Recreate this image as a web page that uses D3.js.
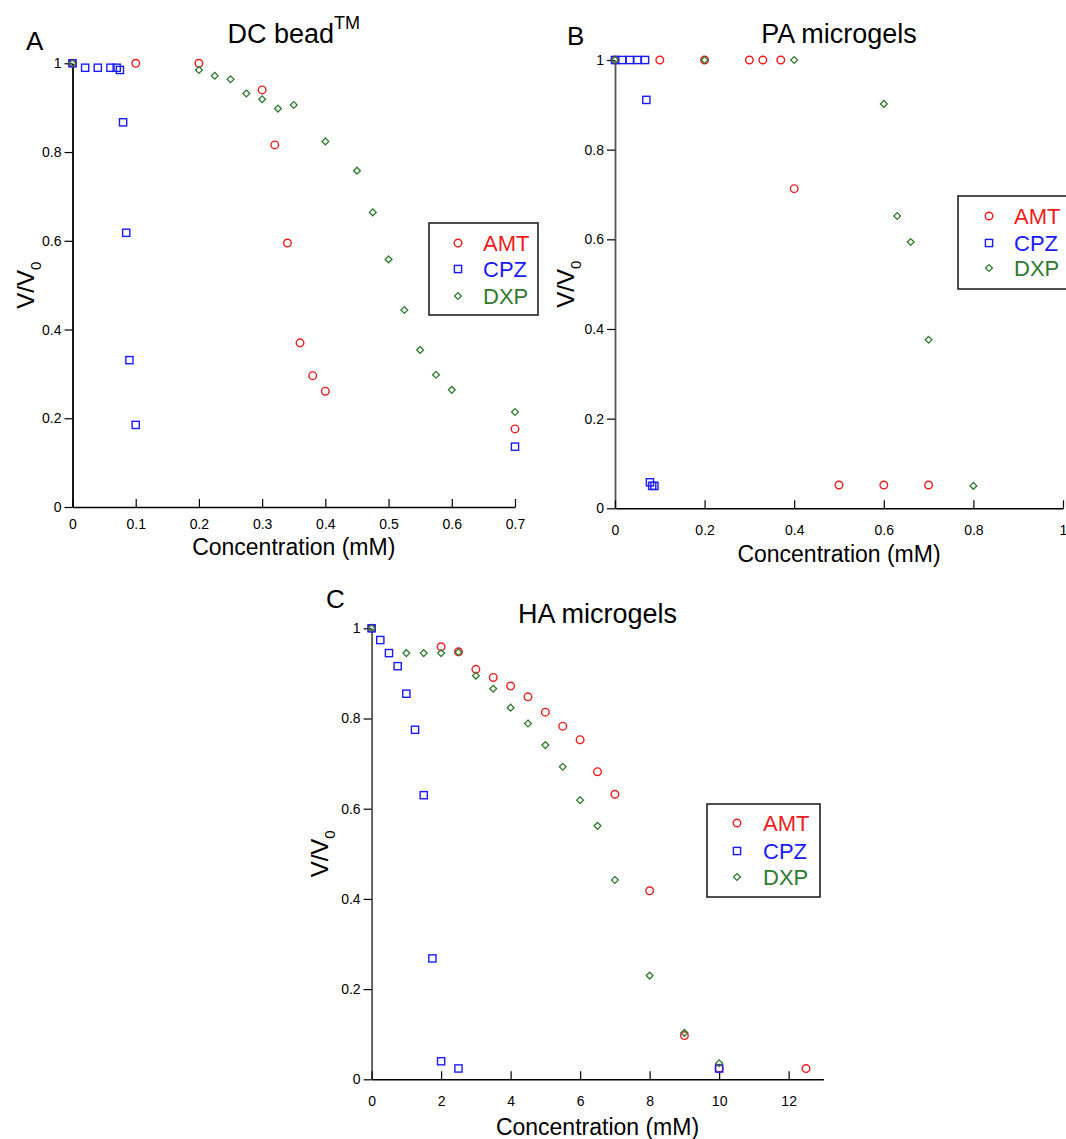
<!DOCTYPE html>
<html>
<head>
<meta charset="utf-8">
<script src="https://cdn.jsdelivr.net/npm/d3@7"></script>
<style>
  body { margin: 0; background: #fff; }
  svg { display: block; font-family: "Liberation Sans", Arial, sans-serif; }
</style>
</head>
<body>
<div id="chart"></div>
<script>
// ---- data ----
const seriesNames = ["AMT", "CPZ", "DXP"];
const seriesColors = ["#ee1c1c", "#1a1aff", "#2e7a2e"];

// panel A: DC bead
const aAmtX = [0, 0.1, 0.2, 0.3, 0.32, 0.34, 0.36, 0.38, 0.4, 0.7];
const aAmtY = [1, 1, 1, 0.94, 0.816, 0.595, 0.37, 0.296, 0.261, 0.176];
const aCpzX = [0, 0.02, 0.04, 0.06, 0.07, 0.075, 0.08, 0.085, 0.09, 0.1, 0.7];
const aCpzY = [1, 0.99, 0.99, 0.99, 0.99, 0.985, 0.867, 0.618, 0.331, 0.185, 0.136];
const aDxpX = [0, 0.2, 0.225, 0.25, 0.275, 0.3, 0.325, 0.35, 0.4, 0.45, 0.475, 0.5, 0.525, 0.55, 0.575, 0.6, 0.7];
const aDxpY = [1, 0.985, 0.972, 0.964, 0.932, 0.919, 0.898, 0.906, 0.824, 0.758, 0.664, 0.558, 0.444, 0.354, 0.298, 0.264, 0.214];

// panel B: PA microgels
const bAmtX = [0, 0.1, 0.2, 0.3, 0.33, 0.37, 0.4, 0.5, 0.6, 0.7];
const bAmtY = [1, 1, 1, 1, 1, 1, 0.713, 0.052, 0.052, 0.052];
const bCpzX = [0, 0.016, 0.033, 0.05, 0.067, 0.07, 0.078, 0.083, 0.088];
const bCpzY = [1, 1, 1, 1, 1, 0.911, 0.058, 0.05, 0.05];
const bDxpX = [0, 0.2, 0.4, 0.6, 0.63, 0.66, 0.7, 0.8];
const bDxpY = [1, 1, 1, 0.902, 0.652, 0.594, 0.376, 0.05];

// panel C: HA microgels
const cAmtX = [0, 2, 2.5, 3, 3.5, 4, 4.5, 5, 5.5, 6, 6.5, 7, 8, 9, 10, 12.5];
const cAmtY = [1, 0.959, 0.948, 0.909, 0.891, 0.872, 0.848, 0.814, 0.783, 0.753, 0.682, 0.632, 0.418, 0.097, 0.024, 0.024];
const cCpzX = [0, 0.25, 0.5, 0.75, 1, 1.25, 1.5, 1.75, 2, 2.5, 10];
const cCpzY = [1, 0.974, 0.945, 0.916, 0.855, 0.775, 0.63, 0.268, 0.04, 0.024, 0.024];
const cDxpX = [0, 1, 1.5, 2, 2.5, 3, 3.5, 4, 4.5, 5, 5.5, 6, 6.5, 7, 8, 9, 10];
const cDxpY = [1, 0.945, 0.945, 0.945, 0.947, 0.895, 0.866, 0.824, 0.789, 0.741, 0.693, 0.619, 0.562, 0.442, 0.23, 0.103, 0.0355];

// ticks
const yTicks = [0, 0.2, 0.4, 0.6, 0.8, 1];
const yTickLabels = ["0", "0.2", "0.4", "0.6", "0.8", "1"];
const aXTicks = [0, 0.1, 0.2, 0.3, 0.4, 0.5, 0.6, 0.7];
const aXTickLabels = ["0", "0.1", "0.2", "0.3", "0.4", "0.5", "0.6", "0.7"];
const bXTicks = [0, 0.2, 0.4, 0.6, 0.8, 1];
const bXTickLabels = ["0", "0.2", "0.4", "0.6", "0.8", "1"];
const cXTicks = [0, 2, 4, 6, 8, 10, 12];
const cXTickLabels = ["0", "2", "4", "6", "8", "10", "12"];

const toPoints = (xs, ys) => xs.map((x, i) => ({ x, y: ys[i] }));

// layout of each panel (pixels)
const panels = [
  {
    letter: "A", title: "DC bead", sup: "TM",
    xDomain: [0, 0.7], xRange: [72.5, 515], yRange: [507, 63.3],
    xTicks: aXTicks, xLabels: aXTickLabels, xLabelPad: 12,
    series: [toPoints(aAmtX, aAmtY), toPoints(aCpzX, aCpzY), toPoints(aDxpX, aDxpY)],
    letterPos: [26, 50], titleY: 43.3, xTitleY: 555, yTitleX: 34,
    legend: { x: 429, y: 223, w: 109, h: 92, mx: 458, tx: 483, rows: [243, 269, 296] },
    yAxisColor: "#000"
  },
  {
    letter: "B", title: "PA microgels",
    xDomain: [0, 1], xRange: [615, 1063], yRange: [508.3, 60],
    xTicks: bXTicks, xLabels: bXTickLabels, xLabelPad: 16.5,
    series: [toPoints(bAmtX, bAmtY), toPoints(bCpzX, bCpzY), toPoints(bDxpX, bDxpY)],
    letterPos: [567, 45], titleY: 43.3, xTitleY: 561.7, yTitleX: 574,
    legend: { x: 958, y: 196, w: 130, h: 93, mx: 989, tx: 1014, rows: [216, 243, 268] },
    yAxisColor: "#555"
  },
  {
    letter: "C", title: "HA microgels",
    xDomain: [0, 13], xRange: [371.6, 823.4], yRange: [1079.3, 628.3],
    xTicks: cXTicks, xLabels: cXTickLabels, xLabelPad: 16.5,
    series: [toPoints(cAmtX, cAmtY), toPoints(cCpzX, cCpzY), toPoints(cDxpX, cDxpY)],
    letterPos: [326, 608.3], titleY: 623.3, xTitleY: 1135, yTitleX: 328,
    legend: { x: 707, y: 804, w: 113, h: 93, mx: 737, tx: 763, rows: [823, 851, 877] },
    yAxisColor: "#555"
  }
];

const svg = d3.select("#chart").append("svg")
  .attr("width", 1066)
  .attr("height", 1139);

svg.append("rect").attr("width", 1066).attr("height", 1139).attr("fill", "#fff");

// draws one marker shape centred on 0,0
function drawMarker(g, kind, color) {
  if (kind === 0) {
    g.append("circle").attr("r", 3.8)
      .attr("fill", "none").attr("stroke", color).attr("stroke-width", 1.4);
  } else if (kind === 1) {
    g.append("rect").attr("x", -3.6).attr("y", -3.6).attr("width", 7.2).attr("height", 7.2)
      .attr("fill", "none").attr("stroke", color).attr("stroke-width", 1.4);
  } else {
    g.append("path").attr("d", "M0,-3.4L3.4,0L0,3.4L-3.4,0Z")
      .attr("fill", "none").attr("stroke", color).attr("stroke-width", 1.3);
  }
}

panels.forEach(p => {
  const x = d3.scaleLinear().domain(p.xDomain).range(p.xRange);
  const y = d3.scaleLinear().domain([0, 1]).range(p.yRange);
  const g = svg.append("g");

  // y axis: ticks outward
  const yAxis = g.append("g")
    .attr("transform", `translate(${p.xRange[0]},0)`)
    .call(d3.axisLeft(y)
      .tickValues(yTicks)
      .tickFormat((d, i) => yTickLabels[i])
      .tickSize(8).tickSizeOuter(0).tickPadding(3));
  yAxis.select(".domain").attr("stroke", p.yAxisColor).attr("stroke-width", 1.8);
  yAxis.selectAll(".tick line").attr("stroke", "#000").attr("stroke-width", 1.2);
  yAxis.selectAll("text").attr("font-size", 14).attr("fill", "#000")
    .attr("font-family", "'Liberation Sans', Arial, sans-serif");

  // x axis: ticks inward
  const xAxis = g.append("g")
    .attr("transform", `translate(0,${p.yRange[0]})`)
    .call(d3.axisBottom(x)
      .tickValues(p.xTicks)
      .tickFormat((d, i) => p.xLabels[i])
      .tickSize(-8).tickSizeOuter(0).tickPadding(p.xLabelPad));
  xAxis.select(".domain").attr("stroke", "#000").attr("stroke-width", 1.6);
  xAxis.selectAll(".tick line").attr("stroke", "#000").attr("stroke-width", 1.2);
  xAxis.selectAll("text").attr("font-size", 14).attr("fill", "#000")
    .attr("font-family", "'Liberation Sans', Arial, sans-serif");

  // panel letter and title
  g.append("text")
    .attr("x", p.letterPos[0]).attr("y", p.letterPos[1])
    .attr("font-size", 26).text(p.letter);

  const midX = (p.xRange[0] + p.xRange[1]) / 2;
  const title = g.append("text")
    .attr("x", midX).attr("y", p.titleY)
    .attr("text-anchor", "middle").attr("font-size", 27)
    .text(p.title);
  if (p.sup) {
    title.append("tspan").attr("dy", -14).attr("font-size", 18).text(p.sup);
  }

  // axis titles
  g.append("text")
    .attr("x", midX).attr("y", p.xTitleY)
    .attr("text-anchor", "middle").attr("font-size", 23)
    .text("Concentration (mM)");

  const midY = (p.yRange[0] + p.yRange[1]) / 2;
  const yt = g.append("text")
    .attr("transform", `translate(${p.yTitleX},${midY}) rotate(-90)`)
    .attr("text-anchor", "middle").attr("font-size", 24);
  yt.append("tspan").text("V/V");
  yt.append("tspan").attr("dy", 7).attr("font-size", 15).text("0");

  // data markers
  p.series.forEach((pts, si) => {
    g.append("g").selectAll("g")
      .data(pts)
      .join("g")
      .attr("transform", d => `translate(${x(d.x)},${y(d.y)})`)
      .each(function () { drawMarker(d3.select(this), si, seriesColors[si]); });
  });

  // legend
  const L = p.legend;
  const lg = g.append("g");
  lg.append("rect")
    .attr("x", L.x).attr("y", L.y).attr("width", L.w).attr("height", L.h)
    .attr("fill", "#fff").attr("stroke", "#222").attr("stroke-width", 1.6);
  seriesNames.forEach((name, si) => {
    const m = lg.append("g").attr("transform", `translate(${L.mx},${L.rows[si]})`);
    drawMarker(m, si, seriesColors[si]);
    lg.append("text")
      .attr("x", L.tx).attr("y", L.rows[si]).attr("dy", "0.36em")
      .attr("font-size", 22).attr("fill", seriesColors[si])
      .text(name);
  });
});
</script>
</body>
</html>
